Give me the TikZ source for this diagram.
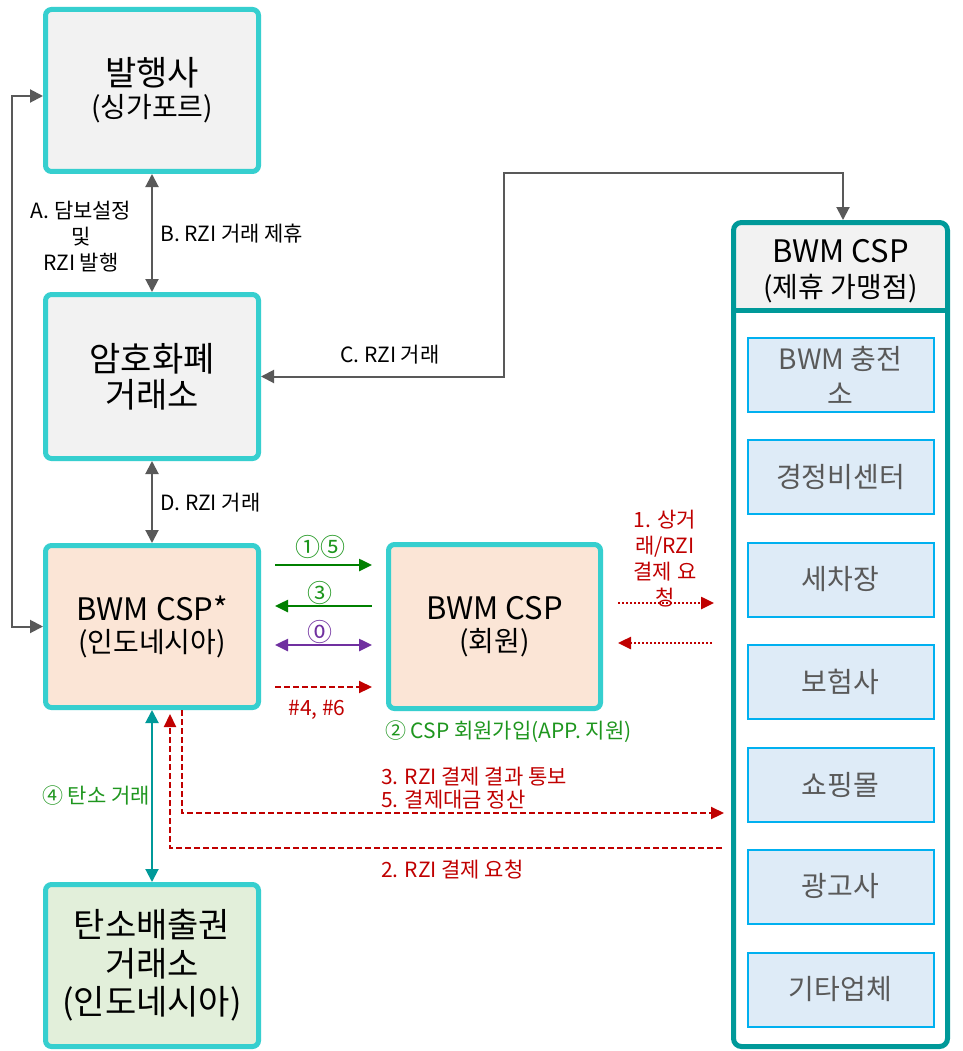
\documentclass[tikz,border=0pt]{standalone}
\usepackage{fontspec}
\setmainfont{Noto Sans CJK KR}
\usetikzlibrary{arrows.meta,calc}
\definecolor{boxteal}{HTML}{36CFCF}
\definecolor{contteal}{HTML}{009999}
\definecolor{greyfill}{HTML}{F2F2F2}
\definecolor{peach}{HTML}{FBE5D6}
\definecolor{lgreen}{HTML}{E2EFDA}
\definecolor{lblue}{HTML}{DEEBF7}
\definecolor{cyanb}{HTML}{00B0F0}
\definecolor{darkgrey}{HTML}{595959}
\definecolor{itemtext}{HTML}{595959}
\definecolor{arrgreen}{HTML}{008000}
\definecolor{txtgreen}{HTML}{1E961E}
\definecolor{purp}{HTML}{7030A0}
\definecolor{dred}{HTML}{C00000}
\tikzset{
  mainbox/.style={draw=boxteal, line width=5pt, rounded corners=6pt, minimum width=213pt,
    inner sep=0pt, align=center, font=\fontsize{34}{36}\selectfont},
  item/.style={draw=cyanb, line width=2pt, fill=lblue, minimum width=186pt, minimum height=74pt,
    inner sep=0pt, align=center, text=itemtext, font=\fontsize{28}{35}\selectfont},
  lab/.style={font=\fontsize{21}{26}\selectfont, inner sep=0pt, align=center},
  circ/.style={font=\fontsize{25}{26}\selectfont, inner sep=0pt},
  greyarr/.style={draw=darkgrey, line width=2pt, >={Triangle[length=13pt,width=13pt]}},
  tealarr/.style={draw=contteal, line width=2pt, >={Triangle[length=13pt,width=13pt]}},
  grnarr/.style={draw=arrgreen, line width=2.5pt, >={Triangle[length=13pt,width=12pt]}, shorten <=14pt, shorten >=14pt},
  purarr/.style={draw=purp, line width=2.5pt, >={Triangle[length=13pt,width=12pt]}, shorten <=14pt, shorten >=14pt},
  reddash/.style={draw=dred, line width=2.2pt, dash pattern=on 6pt off 3pt, >={Triangle[length=13pt,width=12pt]}},
  reddot/.style={draw=dred, line width=2.5pt, dash pattern=on 2pt off 2pt, >={Triangle[length=13pt,width=12pt]}}
}
\newcommand{\lat}[1]{{\fontsize{31}{36}\selectfont #1}}
\newcommand{\subl}[1]{{\fontsize{28}{36}\selectfont #1}}
\begin{document}
\begin{tikzpicture}[x=1pt,y=-1pt]
\useasboundingbox (0,0) rectangle (962,1051);
\fill[white] (0,0) rectangle (962,1051);

% main boxes
\node[mainbox, fill=greyfill, minimum height=162pt] (pub) at (152,90.5)
  {\raisebox{-4pt}{발행사}\\\subl{(싱가포르)}};
\node[mainbox, fill=greyfill, minimum height=164pt] (exch) at (152,376.5)
  {암호화폐\\거래소};
\node[mainbox, fill=peach, minimum height=162pt] (csp) at (152,626.5)
  {\raisebox{-4pt}{\lat{BWM CSP*}}\\\subl{(인도네시아)}};
\node[mainbox, fill=lgreen, minimum height=162pt, font=\fontsize{34}{38.5}\selectfont] (carbon) at (152,965.5)
  {탄소배출권\\거래소\\(인도네시아)};
\node[mainbox, fill=peach, minimum width=212pt, minimum height=164pt] (member) at (494.5,626.5)
  {\raisebox{-4pt}{\lat{BWM CSP}}\\\subl{(회원)}};

% container
\node[fill=greyfill, rounded corners=8pt, minimum width=214pt, minimum height=88pt, inner sep=0pt] (hdr) at (840.5,266) {};
\node[align=center, inner sep=0pt, font=\fontsize{31}{35}\selectfont] (hdrt) at (840.5,271)
  {BWM CSP\\\subl{(제휴 가맹점)}};
\node[draw=contteal, line width=5pt, rounded corners=8pt, minimum width=214pt, minimum height=824pt, inner sep=0pt] (cont) at (840.5,634.5) {};
\draw[contteal, line width=5pt] (cont.west |- hdr.south) -- (cont.east |- hdr.south);

\node[item] (i1) at (840.5,375) {BWM 충전\\소};
\node[item] (i2) at (840.5,477) {경정비센터};
\node[item] (i3) at (840.5,579.5) {세차장};
\node[item] (i4) at (840.5,682) {보험사};
\node[item] (i5) at (840.5,784.5) {쇼핑몰};
\node[item] (i6) at (840.5,886.5) {광고사};
\node[item] (i7) at (840.5,989.5) {기타업체};

% grey connectors
\draw[greyarr,<->] ([yshift=-5.5pt]pub.west) -- ++(-31,0) |- (csp.west);
\draw[greyarr,<->] (pub.south) -- (exch.north);
\coordinate (cturn) at (504,173);
\draw[greyarr,<->] (exch.east) -| (cturn) -| ([xshift=2.5pt]cont.north);
\draw[greyarr,<->] (exch.south) -- (csp.north);
\draw[tealarr,<->] (csp.south) -- (carbon.north);

\node[lab] (la) at (81,237) {A. 담보설정\\및\\RZI 발행};
\node[lab, anchor=west] (lb) at (160,234) {B. RZI 거래 제휴};
\node[lab] (lc) at (390,355) {C. RZI 거래};
\node[lab, anchor=west] (ld) at (160,503) {D. RZI 거래};

% between csp and member
\coordinate (y1) at (0,565);
\coordinate (y2) at (0,606);
\coordinate (y3) at (0,645);
\coordinate (y4) at (0,687);
\draw[grnarr,->] (csp.east|-y1) -- (member.west|-y1);
\draw[grnarr,<-] (csp.east|-y2) -- (member.west|-y2);
\draw[purarr,<->] (csp.east|-y3) -- (member.west|-y3);
\draw[reddash,->, shorten <=14pt, shorten >=14pt] (csp.east|-y4) -- (member.west|-y4);
\node[circ, text=txtgreen] (n15) at (320,547) {①⑤};
\node[circ, text=txtgreen] (n3) at (320,593) {③};
\node[circ, text=purp] (n0) at (320,632) {⓪};
\node[lab, text=dred] (n46) at (317,710) {\#4, \#6};

% member to container
\coordinate (y5) at (0,603);
\coordinate (y6) at (0,643);
\draw[reddot,->, shorten <=15pt, shorten >=17pt] (member.east|-y5) -- (cont.west|-y5);
\draw[reddot,<-, shorten <=15pt, shorten >=17pt] (member.east|-y6) -- (cont.west|-y6);
\node[lab, text=dred] (l1) at (665,559) {1. 상거\\래/RZI\\결제 요\\청};

% long red dashed
\coordinate (y7) at (0,813);
\coordinate (y8) at (0,848);
\draw[reddash,->, shorten >=7pt] ([xshift=30pt]csp.south) |- (cont.west|-y7);
\draw[reddash,->, shorten <=9pt, shorten >=4pt] (cont.west|-y8) -| ([xshift=18pt]csp.south);

\node[lab, text=txtgreen, anchor=west] (l2) at (385,732) {② CSP 회원가입(APP. 지원)};
\node[lab, text=dred, anchor=west, align=left, font=\fontsize{21}{23}\selectfont] (l3) at (381,788.5) {3. RZI 결제 결과 통보\\5. 결제대금 정산};
\node[lab, text=dred, anchor=west] (l4) at (381,870) {2. RZI 결제 요청};
\node[lab, text=txtgreen, anchor=east] (l5) at (150,796) {④ 탄소 거래};
\end{tikzpicture}
\end{document}
